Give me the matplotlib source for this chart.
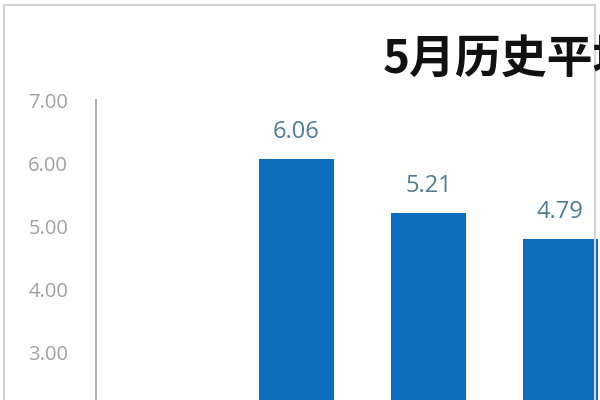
import matplotlib
matplotlib.use("Agg")
import matplotlib.pyplot as plt
from matplotlib.patches import Rectangle

categories = ["类别1", "类别2", "类别3"]
values = [6.06, 5.21, 4.79]
yticks = [3, 4, 5, 6, 7]
title = "5月历史平均涨幅"

plt.rcParams['font.family'] = ['Open Sans', 'Noto Sans CJK SC', 'DejaVu Sans']

fig = plt.figure(figsize=(6, 4), dpi=100)
fig.patch.set_facecolor('white')

# outer frame
fig.patches.append(Rectangle((4/600, -0.1), (595-4)/600, 1.1 - 5/400,
                             transform=fig.transFigure, fill=False,
                             edgecolor='#d4d4d4', linewidth=1.5))

ax = fig.add_axes([96/600, 0, (600-96)/600, 300/400])
x = list(range(len(values)))
bars = ax.bar(x, values, width=0.57, color='#0B6DBE', zorder=2, label=None)
ax.set_xlim(-1.519, 2.30)
ax.set_ylim(2.24, 7.0)
ax.set_yticks(yticks)
ax.set_yticklabels([f"{v:.2f}" for v in yticks])
# category labels lie below the visible (cropped) area
ax.set_xticks(x)
ax.tick_params(axis='x', length=0, labelbottom=False)
for s in ['top', 'right', 'bottom']:
    ax.spines[s].set_visible(False)
ax.spines['left'].set_color('#a8a8a8')
ax.spines['left'].set_linewidth(1.3)
ax.tick_params(axis='y', length=0, pad=20, labelsize=14.5, labelcolor='#a0a0a0')

for xi, v in zip(x, values):
    ax.annotate(f"{v:.2f}", (xi, v), xytext=(0, 19.5), textcoords='offset points',
                ha='center', va='center', fontsize=17, color='#4f7d99')

fig.text(383/600, 1 - 60/400, title, ha='left', va='center', fontsize=33,
         fontweight='bold', color='#111111',
         family=['Noto Sans CJK SC', 'DejaVu Sans'])

fig.savefig('out.png', dpi=100)
